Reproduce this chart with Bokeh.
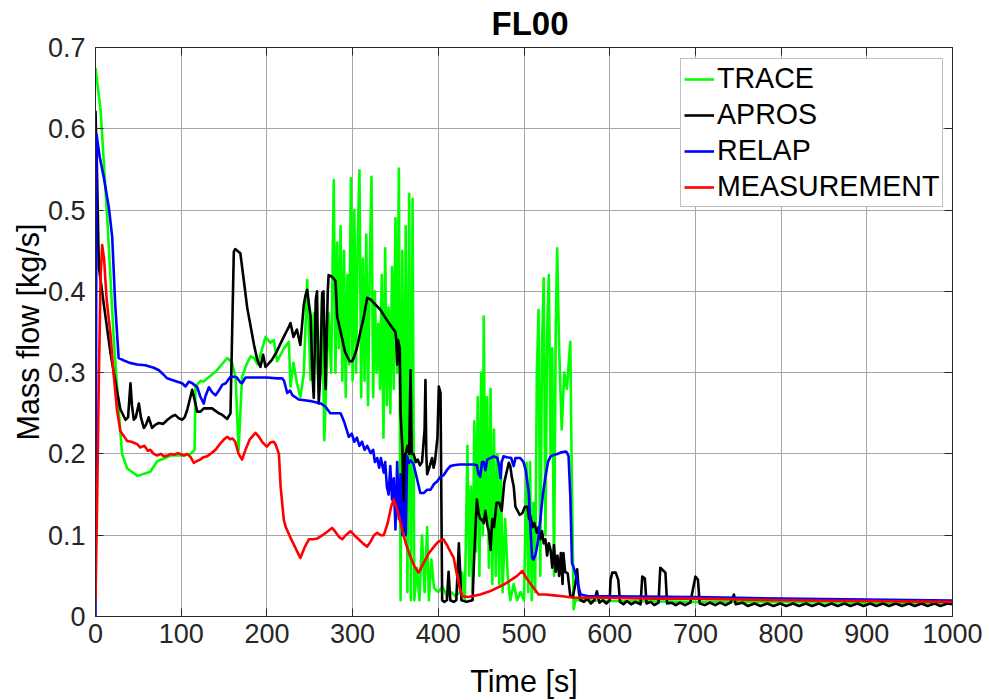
from bokeh.plotting import figure
from bokeh.models import (Range1d, FixedTicker, LinearAxis, CustomJSTickFormatter,
                          Legend, LegendItem, Title)
from bokeh.embed import file_html
from bokeh.resources import INLINE

# ---- data: time [s] and mass flow [kg/s] for each code / experiment ----
trace_t = [0, 6, 14, 21, 27, 31, 37, 49, 64, 72, 88, 103, 111, 115.6, 116.7, 122.6, 126, 140, 153.7,
           159, 163.4, 167, 171, 177, 181, 185, 189, 192.5, 198.4, 204, 208, 212, 216, 220, 225.6,
           227.5, 231, 235, 239, 243, 247, 251, 254.7, 260.5, 264.5, 267, 272, 275, 278, 280, 282,
           284, 286, 288, 290, 292, 294, 296, 298, 300, 302, 304, 306, 308, 310, 312, 314, 316, 318,
           320, 322, 324, 326, 328, 330, 332, 334, 336, 338, 340, 342, 344, 346, 348, 350, 352, 354,
           356, 358, 360, 362, 364, 366, 368, 370, 372, 375, 378, 381, 384, 387, 389, 392, 395, 400,
           405, 410, 415, 420, 425, 428, 431, 434, 436, 438, 440, 442, 444, 446, 448, 450, 452, 453,
           455, 457, 459, 461, 463, 465, 467, 469, 471, 473, 475, 478, 481, 484, 488, 492, 496, 500,
           503, 505, 507, 509, 511, 513, 515, 517, 519, 521, 523, 525, 527, 529, 531, 533, 535, 537,
           538.7, 541, 544, 547, 550, 554, 556, 558, 560, 570, 600, 700, 800, 900, 1000]
trace_q = [0.675, 0.622, 0.485, 0.347, 0.255, 0.2, 0.182, 0.173, 0.178, 0.191, 0.198, 0.198, 0.2, 0.205,
           0.283, 0.29, 0.289, 0.301, 0.318, 0.313, 0.295, 0.205, 0.295, 0.312, 0.32, 0.318, 0.31,
           0.322, 0.344, 0.337, 0.34, 0.314, 0.322, 0.33, 0.338, 0.283, 0.312, 0.287, 0.27, 0.298,
           0.414, 0.291, 0.373, 0.278, 0.393, 0.217, 0.373, 0.30, 0.537, 0.30, 0.46, 0.33, 0.48,
           0.29, 0.45, 0.27, 0.42, 0.31, 0.539, 0.29, 0.50, 0.30, 0.47, 0.549, 0.27, 0.44, 0.29,
           0.47, 0.26, 0.43, 0.541, 0.27, 0.40, 0.30, 0.36, 0.28, 0.42, 0.22, 0.453, 0.26, 0.38,
           0.25, 0.43, 0.28, 0.49, 0.30, 0.551, 0.02, 0.45, 0.13, 0.48, 0.03, 0.52, 0.02, 0.514,
           0.02, 0.06, 0.02, 0.10, 0.03, 0.11, 0.02, 0.07, 0.035, 0.03, 0.037, 0.025, 0.03, 0.025,
           0.03, 0.054, 0.02, 0.21, 0.05, 0.16, 0.03, 0.24, 0.08, 0.27, 0.05, 0.30, 0.10, 0.369,
           0.12, 0.27, 0.06, 0.28, 0.04, 0.23, 0.05, 0.20, 0.04, 0.19, 0.03, 0.12, 0.05, 0.02, 0.04,
           0.02, 0.03, 0.02, 0.189, 0.03, 0.19, 0.02, 0.14, 0.03, 0.30, 0.377, 0.05, 0.33, 0.416,
           0.10, 0.35, 0.42, 0.20, 0.33, 0.05, 0.35, 0.453, 0.33, 0.23, 0.30, 0.28, 0.338, 0.15,
           0.009, 0.02, 0.02, 0.019, 0.018, 0.018, 0.017, 0.017]

apros_t = [0, 1.5, 3.9, 9.7, 17.5, 25, 29, 35, 38, 40.8, 42.5, 44.7, 47, 50.6, 53, 56.4, 59, 62, 66, 70,
           74, 79, 84, 89, 93, 97, 101, 104, 107, 112.8, 116, 118.7, 122.5, 126.4, 131, 136, 140, 144,
           148, 153.7, 157.5, 161.4, 163, 169, 173, 177, 181, 185, 188.7, 192.5, 195.6, 198.4, 202,
           206, 211, 216, 222, 225, 227.5, 231, 235, 239, 243, 245, 247, 249, 251, 253, 254.7, 257,
           258.5, 260.5, 262.5, 264.5, 266, 268.5, 271, 272, 276, 280, 282, 285, 288, 291, 293.7,
           296.5, 299.5, 302, 305, 309, 313, 317, 321, 326.4, 332, 338, 343, 348, 350, 351, 352, 353,
           355, 356, 358, 360, 361, 362, 364, 366, 367.6, 369, 371, 374, 376, 378.6, 381, 384, 385,
           386, 387, 390, 392.7, 394.5, 396, 399, 400.6, 402.6, 404.5, 407, 410, 412, 414, 418, 421,
           424, 427, 433, 440, 442, 445, 447, 449, 451, 453, 455, 457, 459, 461, 463, 465, 468, 471,
           474, 477, 480, 482.3, 484, 486, 488, 490, 492, 495, 498, 501, 504, 506, 507.5, 510, 512,
           515, 517, 519, 521, 523, 525, 527, 529, 531, 533, 535, 537, 539, 541, 543, 545, 546, 548,
           551, 554, 557, 560, 562, 564, 566, 570, 574, 578, 582, 585, 588, 592, 596, 600, 601, 603,
           607, 610, 612, 616, 620, 625, 630, 636, 638, 641, 643, 648, 652, 657, 659, 663, 665, 667,
           672, 677, 682, 688, 694, 700, 703, 705, 711, 717, 723, 729, 735, 741, 745, 747, 755, 761,
           769, 776, 784, 791, 799, 806, 814, 821, 829, 836, 844, 851, 859, 866, 874, 881, 889, 896,
           904, 911, 919, 926, 934, 941, 949, 956, 964, 971, 979, 986, 994, 1000]
apros_q = [0.622, 0.56, 0.43, 0.384, 0.324, 0.278, 0.255, 0.242, 0.245, 0.287, 0.26, 0.242, 0.245, 0.262,
           0.245, 0.232, 0.236, 0.245, 0.232, 0.236, 0.238, 0.237, 0.242, 0.246, 0.248, 0.244, 0.242,
           0.245, 0.254, 0.279, 0.265, 0.252, 0.252, 0.256, 0.256, 0.256, 0.253, 0.25, 0.248, 0.243,
           0.25, 0.449, 0.452, 0.447, 0.414, 0.38, 0.357, 0.334, 0.316, 0.307, 0.322, 0.307, 0.311,
           0.316, 0.325, 0.336, 0.349, 0.355, 0.361, 0.344, 0.353, 0.334, 0.383, 0.395, 0.402, 0.385,
           0.37, 0.30, 0.269, 0.39, 0.40, 0.262, 0.30, 0.398, 0.40, 0.28, 0.40, 0.42, 0.418, 0.413,
           0.369, 0.355, 0.341, 0.326, 0.32, 0.314, 0.314, 0.32, 0.33, 0.35, 0.368, 0.392, 0.39,
           0.384, 0.378, 0.368, 0.36, 0.353, 0.35, 0.34, 0.31, 0.34, 0.33, 0.25, 0.209, 0.104, 0.20,
           0.2, 0.21, 0.2, 0.303, 0.2, 0.2, 0.19, 0.193, 0.186, 0.19, 0.23, 0.291, 0.2, 0.175, 0.185,
           0.195, 0.183, 0.19, 0.22, 0.283, 0.275, 0.02, 0.018, 0.02, 0.055, 0.02, 0.018, 0.02, 0.09,
           0.02, 0.018, 0.02, 0.077, 0.144, 0.127, 0.12, 0.119, 0.115, 0.13, 0.113, 0.105, 0.082,
           0.12, 0.11, 0.14, 0.14, 0.13, 0.165, 0.179, 0.189, 0.185, 0.17, 0.16, 0.135, 0.131, 0.125,
           0.127, 0.135, 0.135, 0.12, 0.123, 0.11, 0.115, 0.103, 0.11, 0.095, 0.105, 0.09, 0.095,
           0.075, 0.09, 0.082, 0.06, 0.088, 0.055, 0.075, 0.05, 0.078, 0.04, 0.078, 0.055, 0.053,
           0.025, 0.025, 0.04, 0.058, 0.03, 0.02, 0.018, 0.022, 0.016, 0.02, 0.031, 0.017, 0.02,
           0.016, 0.02, 0.045, 0.054, 0.054, 0.045, 0.018, 0.015, 0.019, 0.015, 0.018, 0.015, 0.049,
           0.047, 0.016, 0.018, 0.014, 0.017, 0.06, 0.056, 0.054, 0.016, 0.017, 0.014, 0.017, 0.014,
           0.017, 0.049, 0.045, 0.016, 0.014, 0.017, 0.014, 0.017, 0.014, 0.017, 0.027, 0.015, 0.017,
           0.013, 0.016, 0.013, 0.016, 0.013, 0.016, 0.013, 0.016, 0.013, 0.016, 0.013, 0.016, 0.013,
           0.016, 0.013, 0.016, 0.013, 0.016, 0.013, 0.016, 0.013, 0.016, 0.013, 0.016, 0.013, 0.016,
           0.013, 0.016, 0.013, 0.016, 0.013, 0.016, 0.015]

relap_t = [0, 0.6, 1.2, 5, 9.7, 15.6, 19.5, 23, 27, 33, 40, 48.6, 58, 68, 74, 78, 83.6, 92, 101, 105, 109,
           113, 118.7, 122.5, 126.4, 128, 132.3, 136, 140, 144, 147.8, 152, 157.5, 161.4, 165, 169,
           171, 175, 185, 200, 212, 217.8, 220, 223.7, 227, 230, 233, 237, 244, 251, 259, 263,
           268.4, 274, 280, 286, 290, 293, 295.6, 299, 302, 305, 308, 311, 314, 317, 321, 324, 326,
           328.7, 331, 333, 336.4, 338, 340, 342, 344, 346, 348, 350, 352, 354, 356, 358, 360, 362,
           363.6, 365.6, 368, 371, 375, 379, 383, 387, 391, 395, 398.5, 402.6, 406.4, 410, 414, 418,
           425, 437.6, 441, 445, 447, 449, 451, 453, 455, 457, 461, 465, 469, 471, 472.6, 474, 476,
           480, 485, 488, 490, 495.6, 499.4, 502, 505.6, 507.5, 509.5, 511, 513.4, 516, 519, 522,
           525, 528, 531, 535, 538.7, 544, 548.4, 550, 552, 554, 556, 558, 560, 563, 566, 575, 600,
           700, 800, 900, 1000]
relap_q = [0.0, 0.3, 0.593, 0.565, 0.54, 0.503, 0.467, 0.384, 0.318, 0.315, 0.312, 0.31, 0.309, 0.306,
           0.303, 0.299, 0.293, 0.29, 0.287, 0.283, 0.289, 0.287, 0.282, 0.27, 0.262, 0.27, 0.282,
           0.276, 0.272, 0.278, 0.285, 0.287, 0.295, 0.295, 0.294, 0.288, 0.287, 0.294, 0.294, 0.294,
           0.293, 0.293, 0.29, 0.275, 0.278, 0.272, 0.27, 0.267, 0.266, 0.265, 0.263, 0.262, 0.258,
           0.25, 0.25, 0.25, 0.24, 0.23, 0.221, 0.225, 0.215, 0.22, 0.21, 0.215, 0.205, 0.21, 0.201,
           0.205, 0.19, 0.195, 0.183, 0.195, 0.177, 0.19, 0.16, 0.15, 0.185, 0.144, 0.17, 0.107,
           0.19, 0.12, 0.175, 0.10, 0.14, 0.1, 0.197, 0.189, 0.192, 0.188, 0.17, 0.152, 0.152, 0.156,
           0.156, 0.163, 0.166, 0.172, 0.174, 0.18, 0.185, 0.186, 0.187, 0.187, 0.187, 0.186, 0.175,
           0.172, 0.19, 0.19, 0.18, 0.193, 0.195, 0.197, 0.195, 0.185, 0.17, 0.19, 0.197, 0.196,
           0.195, 0.185, 0.195, 0.195, 0.19, 0.18, 0.152, 0.11, 0.072, 0.07, 0.076, 0.09, 0.119,
           0.15, 0.172, 0.19, 0.197, 0.199, 0.2, 0.202, 0.203, 0.202, 0.197, 0.15, 0.066, 0.06,
           0.053, 0.04, 0.027, 0.025, 0.025, 0.024, 0.022, 0.021, 0.0195]

meas_t = [0, 2, 4, 6, 7.8, 10, 13, 17.5, 21, 25, 29, 33, 37, 42, 48.6, 52, 57, 61, 64, 68, 72, 76, 80, 84,
          88, 92, 96, 99, 103, 107, 111, 114.7, 118, 122, 126, 130, 134, 140, 145, 150, 153.7, 157,
          160, 163, 167, 171, 175, 180, 186.7, 190, 195, 200, 204, 208, 210, 214, 216, 219.7, 222,
          227.5, 233, 239, 244, 249, 254, 259, 265, 270, 276, 280, 284, 288, 292, 297.5, 302, 307,
          312, 317, 321, 325, 328.7, 333, 336.4, 341, 345, 348, 351, 356, 362, 368, 372, 377, 382,
          389, 395, 400, 406, 410, 413, 418, 421, 425, 428, 435, 449, 460, 470, 476, 485, 492, 498,
          503, 510, 517, 525, 535, 545, 558, 589, 650, 700, 800, 900, 1000]
meas_q = [0.02, 0.15, 0.3, 0.42, 0.457, 0.44, 0.39, 0.347, 0.3, 0.255, 0.228, 0.222, 0.216, 0.215, 0.212,
          0.208, 0.21, 0.204, 0.205, 0.2, 0.198, 0.2, 0.197, 0.198, 0.2, 0.199, 0.201, 0.2, 0.198,
          0.2, 0.196, 0.189, 0.191, 0.193, 0.196, 0.197, 0.2, 0.205, 0.212, 0.218, 0.221, 0.218,
          0.219, 0.215, 0.2, 0.193, 0.205, 0.218, 0.226, 0.222, 0.214, 0.209, 0.214, 0.215, 0.212,
          0.2, 0.16, 0.119, 0.11, 0.097, 0.085, 0.072, 0.085, 0.095, 0.095, 0.096, 0.1, 0.104, 0.109,
          0.104, 0.098, 0.095, 0.1, 0.105, 0.1, 0.095, 0.09, 0.086, 0.092, 0.1, 0.103, 0.1, 0.1,
          0.115, 0.135, 0.144, 0.135, 0.115, 0.09, 0.072, 0.062, 0.054, 0.064, 0.078, 0.086, 0.092,
          0.095, 0.088, 0.082, 0.072, 0.055, 0.035, 0.025, 0.024, 0.027, 0.031, 0.036, 0.039, 0.045,
          0.05, 0.056, 0.047, 0.037, 0.027, 0.027, 0.026, 0.025, 0.023, 0.023, 0.022, 0.022, 0.02,
          0.019, 0.018]

series_names = ["TRACE", "APROS", "RELAP", "MEASUREMENT"]
series_colors = ["#00ff00", "#000000", "#0000ff", "#ff0000"]
x_ticks = [0, 100, 200, 300, 400, 500, 600, 700, 800, 900, 1000]
y_ticks = [0, 0.1, 0.2, 0.3, 0.4, 0.5, 0.6, 0.7]

FONT = "Liberation Sans"
AX_COLOR = "#262626"

p = figure(width=989, height=700, output_backend="svg", toolbar_location=None,
           x_range=Range1d(0, 1000), y_range=Range1d(0, 0.7),
           min_border_left=95, min_border_right=37, min_border_top=47, min_border_bottom=83,
           background_fill_color="white", border_fill_color="white")

p.title = Title(text="FL00", align="left", offset=396, text_font=FONT, text_font_size="33px",
                text_font_style="bold", text_color="black", standoff=8, vertical_align="top")

p.outline_line_color = AX_COLOR
p.outline_line_width = 1

# bottom/left axes with labels
p.xaxis.ticker = FixedTicker(ticks=x_ticks)
p.yaxis.ticker = FixedTicker(ticks=y_ticks)
p.yaxis.formatter = CustomJSTickFormatter(code="return tick.toFixed(1).replace(/\\.0$/, '');")
p.xaxis.axis_label = "Time [s]"
p.yaxis.axis_label = "Mass flow [kg/s]"
for ax in (p.xaxis[0], p.yaxis[0]):
    ax.axis_label_text_font = FONT
    ax.axis_label_text_font_size = "30.5px"
    ax.axis_label_text_font_style = "normal"
    ax.axis_label_text_color = "black"
    ax.major_label_text_font = FONT
    ax.major_label_text_font_size = "27px"
    ax.major_label_text_color = AX_COLOR
    ax.major_tick_in = 8
    ax.major_tick_out = 0
    ax.minor_tick_line_color = None
    ax.axis_line_color = AX_COLOR
    ax.major_tick_line_color = AX_COLOR
p.xaxis.major_label_standoff = 7
p.yaxis.major_label_standoff = 10
p.xaxis.axis_label_standoff = 18
p.yaxis.axis_label_standoff = 0

# mirrored tick marks on top and right
top_ax = LinearAxis(ticker=FixedTicker(ticks=x_ticks), major_label_text_font_size="0px",
                    major_label_standoff=0, axis_label_standoff=0, major_tick_in=8,
                    major_tick_out=0, minor_tick_line_color=None, axis_line_color=AX_COLOR,
                    major_tick_line_color=AX_COLOR)
right_ax = LinearAxis(ticker=FixedTicker(ticks=y_ticks), major_label_text_font_size="0px",
                      major_label_standoff=0, axis_label_standoff=0, major_tick_in=8,
                      major_tick_out=0, minor_tick_line_color=None, axis_line_color=AX_COLOR,
                      major_tick_line_color=AX_COLOR)
p.add_layout(top_ax, "above")
p.add_layout(right_ax, "right")

p.grid.grid_line_color = "#a6a6a6"
p.grid.grid_line_width = 1
p.xgrid.ticker = FixedTicker(ticks=x_ticks)
p.ygrid.ticker = FixedTicker(ticks=y_ticks)

data = [(trace_t, trace_q), (apros_t, apros_q), (relap_t, relap_q), (meas_t, meas_q)]
items = []
for (t, q), name, col in zip(data, series_names, series_colors):
    r = p.line(t, q, line_color=col, line_width=2.6, line_join="round")
    items.append(LegendItem(label=name, renderers=[r]))

legend = Legend(items=items, location=(585, 409), padding=3, spacing=3, margin=0,
                label_text_font=FONT, label_text_font_size="28.6px", label_text_color="black",
                label_height=32, glyph_height=32, glyph_width=30, label_standoff=3,
                border_line_color="#808080", border_line_width=1,
                background_fill_color="white", background_fill_alpha=1.0)
p.add_layout(legend, "center")

open("out.html", "w").write(file_html(p, INLINE))
